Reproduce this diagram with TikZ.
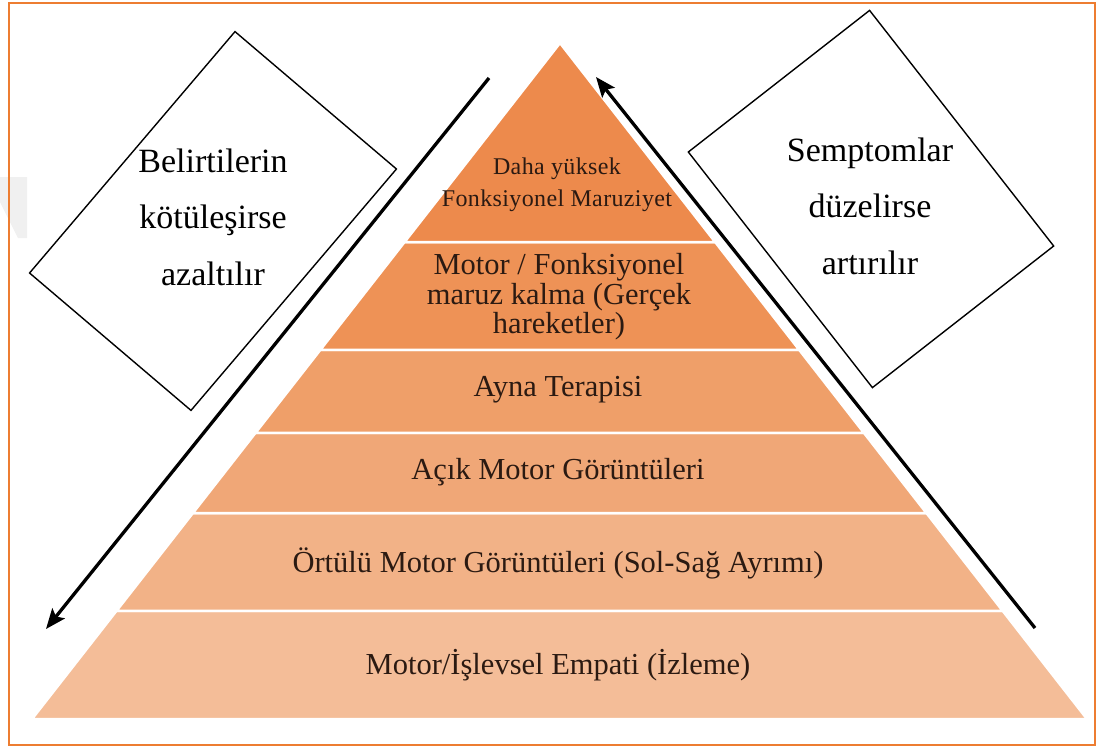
\documentclass[tikz,border=0pt]{standalone}
\usepackage{fontspec}
\setmainfont{Liberation Serif}
\usetikzlibrary{calc,arrows.meta}
\definecolor{frame}{HTML}{ED7D31}
\definecolor{c1}{HTML}{ED8A4C}
\definecolor{c2}{HTML}{EE9256}
\definecolor{c3}{HTML}{EF9F69}
\definecolor{c4}{HTML}{F0A777}
\definecolor{c5}{HTML}{F2B287}
\definecolor{c6}{HTML}{F4BD98}
\definecolor{ink}{HTML}{2B1A12}
\begin{document}
\begin{tikzpicture}[x=1pt,y=-1pt,
  layer/.style={fill=#1, draw=white, line width=2.5pt, line join=round},
  lbl/.style={text=ink, align=center, inner sep=0pt, font=\fontsize{30.5}{29.5}\selectfont},
  toplbl/.style={text=ink, align=center, inner sep=0pt, font=\addfontfeature{LetterSpace=1.5}\fontsize{24}{32}\selectfont},
  boxshape/.style={draw=black, line width=1.4pt, fill=white, inner sep=0pt},
  boxtext/.style={text=black, align=center, inner sep=0pt, font=\fontsize{34}{56.5}\selectfont},
  trend/.style={line width=3.3pt, -{Stealth[length=20pt,width=16pt,inset=4pt]}}
]
\useasboundingbox (0,0) rectangle (1100,747);
% faint watermark
\fill[black!6] (0,177) -- (27,177) -- (27,238) -- (18,238) -- (0,202) -- cycle;
% frame
\draw[frame, line width=2pt] (9,3) rectangle (1095,745);

% pyramid geometry
\coordinate (A) at (560,43);
\coordinate (BL) at (32,719);
\coordinate (BR) at (1087,719);
\coordinate (L1) at ($(A)!0.2944!(BL)$); \coordinate (R1) at ($(A)!0.2944!(BR)$);
\coordinate (L2) at ($(A)!0.4541!(BL)$); \coordinate (R2) at ($(A)!0.4541!(BR)$);
\coordinate (L3) at ($(A)!0.5769!(BL)$); \coordinate (R3) at ($(A)!0.5769!(BR)$);
\coordinate (L4) at ($(A)!0.6953!(BL)$); \coordinate (R4) at ($(A)!0.6953!(BR)$);
\coordinate (L5) at ($(A)!0.8402!(BL)$); \coordinate (R5) at ($(A)!0.8402!(BR)$);

\path[layer=c6] (L5) -- (BL) -- (BR) -- (R5) -- cycle;
\path[layer=c5] (L4) -- (L5) -- (R5) -- (R4) -- cycle;
\path[layer=c4] (L3) -- (L4) -- (R4) -- (R3) -- cycle;
\path[layer=c3] (L2) -- (L3) -- (R3) -- (R2) -- cycle;
\path[layer=c2] (L1) -- (L2) -- (R2) -- (R1) -- cycle;
\path[layer=c1] (A) -- (L1) -- (R1) -- cycle;

% layer labels
\node[toplbl] (t1) at (557,185) {Daha yüksek\\Fonksiyonel Maruziyet};
\node[lbl] (t2) at (559,297) {Motor / Fonksiyonel\\maruz kalma (Gerçek\\hareketler)};
\node[lbl] (t3) at (558,390) {Ayna Terapisi};
\node[lbl] (t4) at (558,472) {Açık Motor Görüntüleri};
\node[lbl] (t5) at (558,563) {Örtülü Motor Görüntüleri (Sol-Sağ Ayrımı)};
\node[lbl] (t6) at (558,665) {Motor/İşlevsel Empati (İzleme)};

% side boxes
\node[boxshape, minimum width=317pt, minimum height=212pt, rotate=49.6] (lbox) at (213,221) {};
\node[boxtext] (ltext) at (213,217) {Belirtilerin\\kötüleşirse\\azaltılır};
\node[boxshape, minimum width=230pt, minimum height=299pt, rotate=38] (rbox) at (871,199) {};
\node[boxtext] (rtext) at (870,206) {Semptomlar\\düzelirse\\artırılır};

% trend arrows
\coordinate (ls) at (489,78);
\coordinate (le) at (46,629);
\coordinate (rs) at (1035,628);
\coordinate (re) at (596,77);
\draw[trend] (ls) -- (le);
\draw[trend] (rs) -- (re);
\end{tikzpicture}
\end{document}
